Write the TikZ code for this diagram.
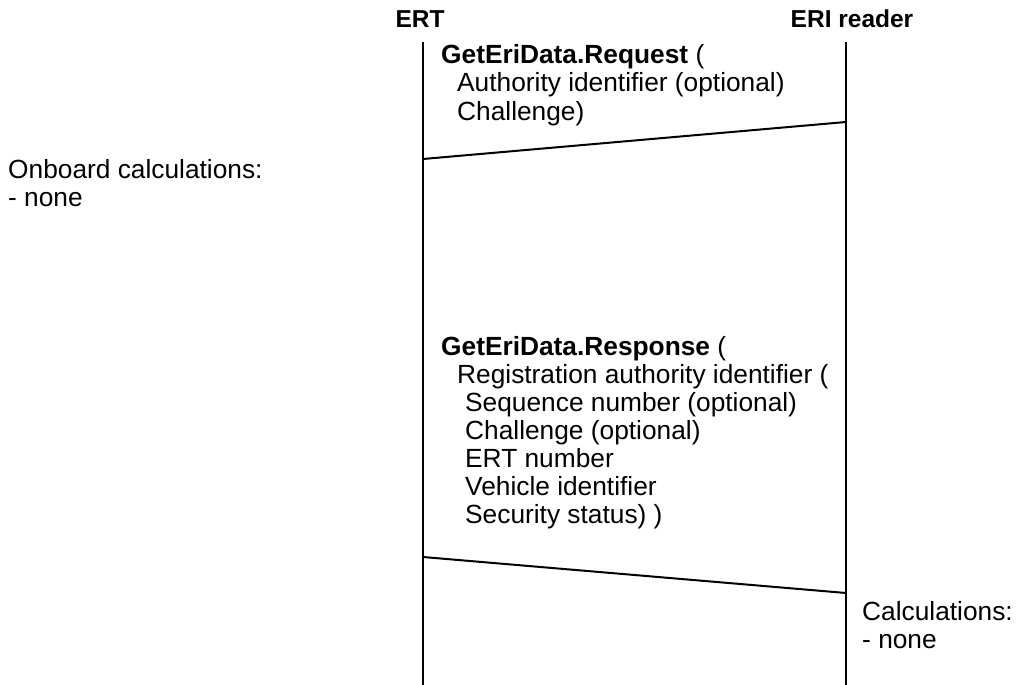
\documentclass[tikz,border=0pt]{standalone}
\usepackage{fontspec}
\setmainfont{Liberation Sans}
\begin{document}
\begin{tikzpicture}[x=1pt,y=-1pt,
  lifeline/.style={line width=2pt},
  msg/.style={line width=2pt},
  txt/.style={anchor=base west,inner sep=0pt,align=left,font=\fontsize{26.3}{28}\selectfont},
  head/.style={anchor=base,inner sep=0pt,font=\fontsize{24.5}{28}\selectfont\bfseries}]
\useasboundingbox (0,0) rectangle (1018,685);
% participants
\node[head] (ert) at (420,28) {ERT};
\node[head] (eri) at (852,28) {ERI reader};
\coordinate (ertTop) at (423,42);
\coordinate (ertBot) at (423,685);
\coordinate (eriTop) at (846,42);
\coordinate (eriBot) at (846,685);
\draw[lifeline] (ertTop) -- (ertBot);
\draw[lifeline] (eriTop) -- (eriBot);
% request (node anchored at the baseline of its last line)
\coordinate (reqS) at (846,122);
\coordinate (reqE) at (423,159);
\draw[msg] (reqS) -- (reqE);
\node[txt,font=\fontsize{26.3}{29}\selectfont] (req) at (441,121) {\textbf{GetEriData.Request} (\\
\hspace*{16pt}Authority identifier (optional)\\
\hspace*{16pt}Challenge)};
% response
\coordinate (resS) at (423,557);
\coordinate (resE) at (846,593);
\draw[msg] (resS) -- (resE);
\node[txt] (res) at (441,523) {\textbf{GetEriData.Response} (\\
\hspace*{16pt}Registration authority identifier (\\
\hspace*{24pt}Sequence number (optional)\\
\hspace*{24pt}Challenge (optional)\\
\hspace*{24pt}ERT number\\
\hspace*{24pt}Vehicle identifier\\
\hspace*{24pt}Security status) )};
% side notes
\node[txt] (onb) at (8,206) {Onboard calculations:\\- none};
\node[txt] (calc) at (862,648) {Calculations:\\- none};
\end{tikzpicture}
\end{document}
